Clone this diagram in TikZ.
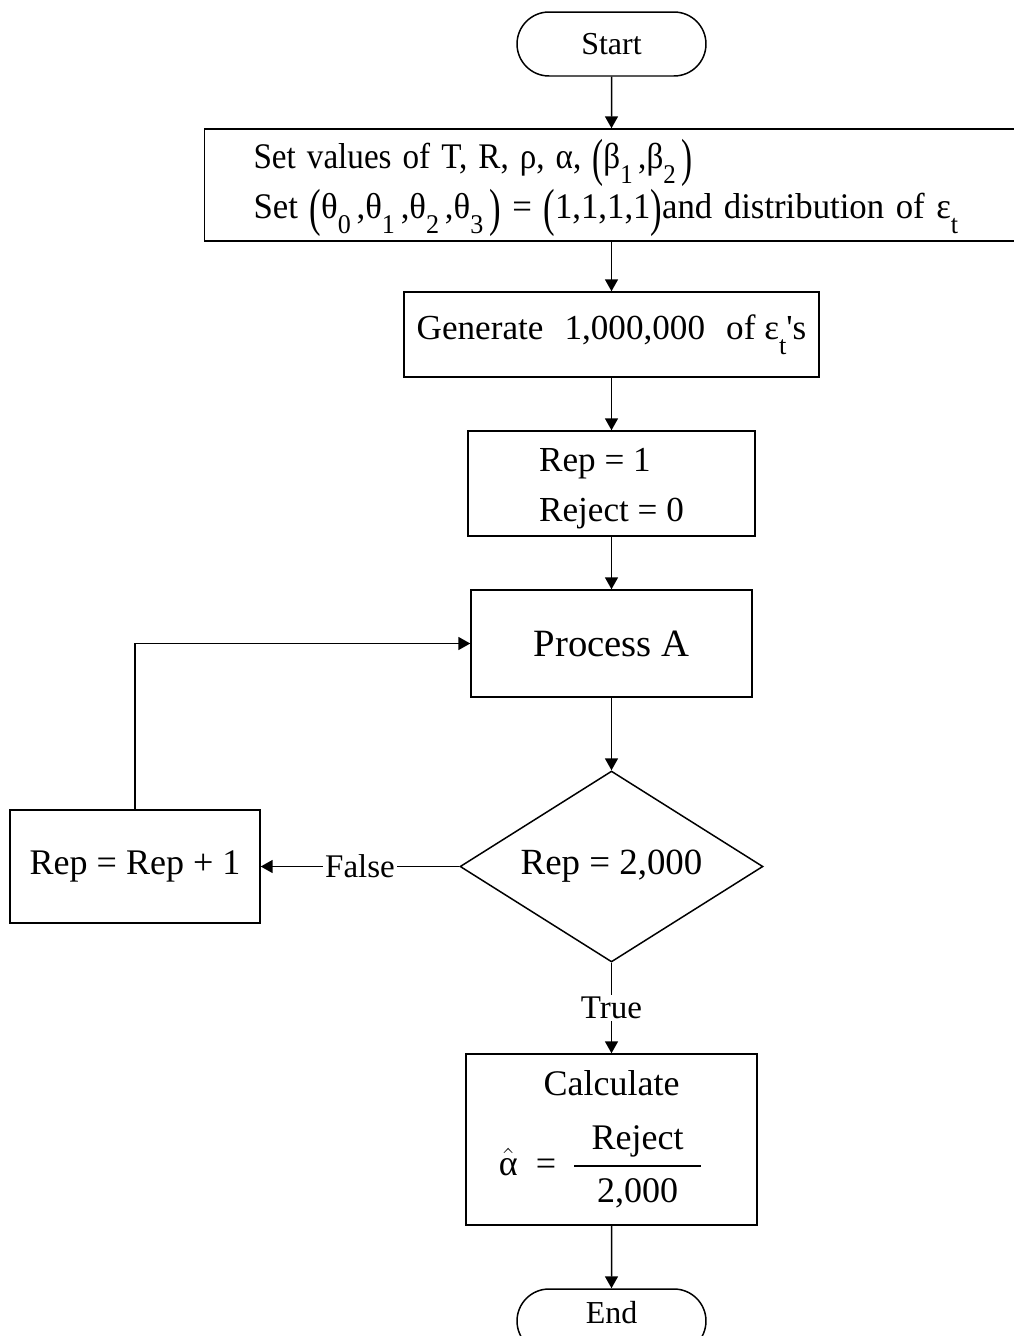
\documentclass[tikz,border=0pt]{standalone}
\usepackage{fontspec}
\setmainfont{Liberation Serif}
\newfontfamily\tightfont{Liberation Serif}[WordSpace=0.6]
\usetikzlibrary{arrows.meta,shapes.geometric,shapes.misc}

\newcommand{\sub}[1]{\raisebox{-0.9ex}{\scalebox{0.75}{#1}}}
\newcommand{\Lpar}{\raisebox{-0.2em}{\scalebox{1}[1.45]{(}}}
\newcommand{\Rpar}{\raisebox{-0.2em}{\scalebox{1}[1.45]{)}}}
\newcommand{\frc}[2]{{\setlength{\arrayrulewidth}{1.4pt}\begin{tabular}[c]{@{\hspace{10pt}}c@{\hspace{10pt}}}#1\\\hline #2\end{tabular}}}

\begin{document}
\begin{tikzpicture}[x=0.02cm, y=-0.02cm, line width=0.85pt,
    every node/.style={draw, line width=0.85pt, inner sep=0pt},
    term/.style={rounded rectangle, minimum width=3.78cm, minimum height=1.28cm, font=\fontsize{18.2}{22}\selectfont},
    box/.style={rectangle, align=center, font=\fontsize{20}{28.5}\selectfont},
    arr/.style={-{Triangle[length=6.8pt,width=7.4pt]}},
    lbl/.style={draw=none, fill=white, inner sep=1pt, font=\fontsize{18.8}{22}\selectfont}]
    \useasboundingbox (0,0) rectangle (1014,1336);
    \clip (0,0) rectangle (1014,1336);

    \node[term] (start) at (611.5,44) {Start};
    \node[box, minimum width=16.28cm, minimum height=2.24cm, text width=14.32cm, align=left,
          font=\tightfont\fontsize{20.5}{28.5}\selectfont] (setv) at (611.5,185)
        {\scalebox{0.92}[1]{\rule{0pt}{20pt}Set values of T, R, ρ, α, \Lpar β\sub{1}\,,β\sub{2}\,\Rpar}\\
         \scalebox{0.965}[1]{Set \Lpar θ\sub{0}\,,θ\sub{1}\,,θ\sub{2}\,,θ\sub{3}\,\Rpar{} = \Lpar 1,1,1,1\Rpar{}and distribution of ε\sub{t}}};
    \node[box, minimum width=8.3cm, minimum height=1.7cm] (gen) at (611.5,334.5)
        {Generate\hspace{12pt}1,000,000\hspace{12pt}of ε\sub{t}\textquotesingle s};
    \node[box, align=left, minimum width=5.74cm, minimum height=2.1cm] (rep1) at (611.5,483.5) {\rule{0pt}{19.5pt}Rep = 1\\Reject = 0};
    \node[box, minimum width=5.62cm, minimum height=2.14cm, font=\fontsize{22}{26}\selectfont] (proc) at (611.5,643.5) {Process A};
    \node[diamond, aspect=1.586, minimum width=6.06cm, minimum height=3.82cm, font=\fontsize{21}{26}\selectfont] (dec) at (611.5,866.5) {Rep = 2,000};
    \node[box, minimum width=5cm, minimum height=2.26cm, font=\fontsize{20.5}{26}\selectfont] (inc) at (135,866.5) {Rep = Rep + 1};
    \node[box, minimum width=5.82cm, minimum height=3.42cm, font=\fontsize{20.5}{29}\selectfont] (calc) at (611.5,1139.5)
        {\rule{0pt}{20pt}Calculate\\[9pt] \mbox{$\hat{\mbox{α}}$\ \ =\ \ \frc{Reject}{2,000}\hspace{13pt}}};
    \node[term, text height=12pt, text depth=9pt] (stop) at (611.5,1321) {End};

    % main flow
    \draw[arr] (start) -- (setv);
    \draw[arr] (setv) -- (gen);
    \draw[arr] (gen) -- (rep1);
    \draw[arr] (rep1) -- (proc);
    \draw[arr] (proc) -- (dec);
    \draw[arr] (dec) -- node[lbl] {True} (calc);
    \draw[arr] (calc) -- (stop);

    % loop back
    \draw[arr] (dec) -- node[lbl] {False} (inc);
    \draw[arr] (inc.north) |- (proc.west);
\end{tikzpicture}
\end{document}
